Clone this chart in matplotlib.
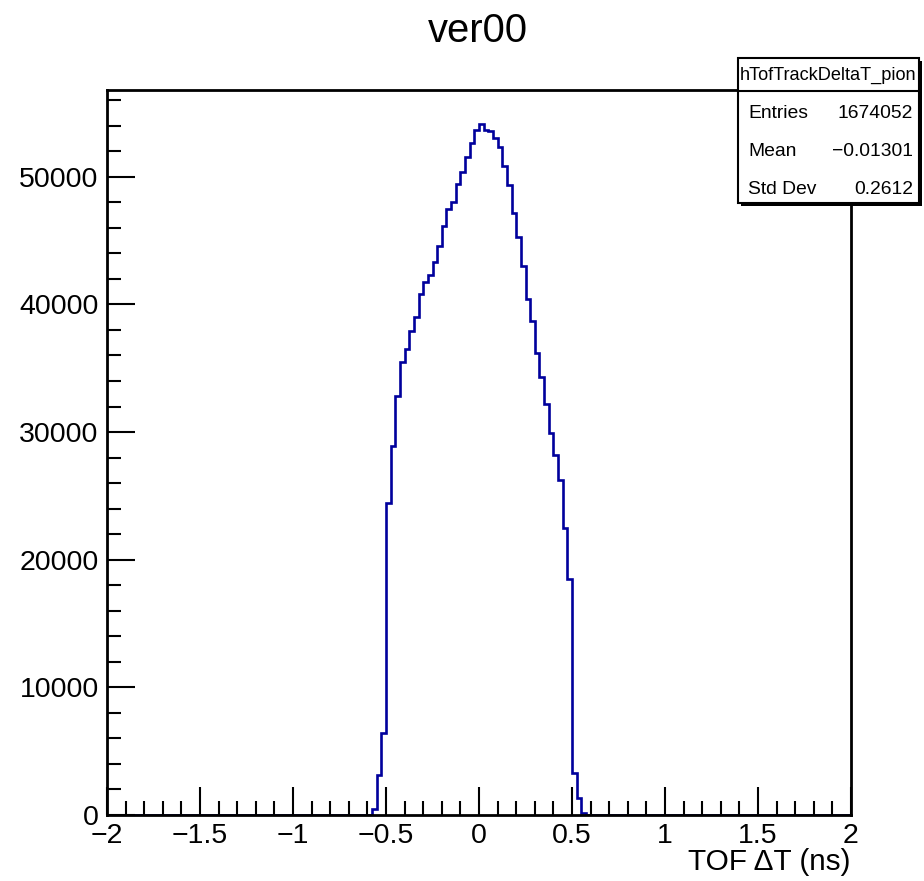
import numpy as np
import matplotlib
matplotlib.use("Agg")
import matplotlib.pyplot as plt
from matplotlib.patches import Rectangle
from matplotlib.ticker import MultipleLocator, FixedLocator

plt.rcParams['font.family'] = ['Liberation Sans', 'DejaVu Sans']

# Histogram definition: 160 bins on [-2, 2]
x_min, x_max, n_bins = -2.0, 2.0, 160
# Filled bins start at this lower edge; all other bins are empty
first_filled_edge = -0.575
counts_filled = [
    450, 3130, 6450,
    24430, 28900, 32800, 35500, 36500, 37950, 39050, 40830, 41770, 42340,
    43310, 44590, 46130, 47440, 48040, 49430, 50340, 51570, 52660, 53630,
    54100, 53630, 53560, 53040, 52350, 50810, 49370, 47170, 45320, 43000,
    40410, 38710, 36200, 34350, 32230, 29960, 28220, 26220, 22470, 18500,
    3270, 1360, 180,
]

title = "ver00"
hist_name = "hTofTrackDeltaT_pion"
stat_labels = ["Entries", "Mean", "Std Dev"]
stat_values = ["1674052", "\u22120.01301", "0.2612"]
x_label = "TOF \u0394T (ns)"
x_ticks = [-2, -1.5, -1, -0.5, 0, 0.5, 1, 1.5, 2]
x_ticklabels = ["\u22122", "\u22121.5", "\u22121", "\u22120.5", "0", "0.5", "1", "1.5", "2"]
y_ticks = [0, 10000, 20000, 30000, 40000, 50000]
y_max = 56800

edges = np.linspace(x_min, x_max, n_bins + 1)
counts = np.zeros(n_bins)
start = int(round((first_filled_edge - x_min) / (x_max - x_min) * n_bins))
counts[start:start + len(counts_filled)] = counts_filled

W, H = 924, 881
fig = plt.figure(figsize=(W / 100, H / 100), dpi=100)
ax = fig.add_axes([107 / W, 1 - 815 / H, (851 - 107) / W, (815 - 90) / H])

ax.stairs(counts, edges, color="#00009c", linewidth=1.9, baseline=None)

ax.set_xlim(x_min, x_max)
ax.set_ylim(0, y_max)

ax.xaxis.set_major_locator(FixedLocator(x_ticks))
ax.set_xticklabels(x_ticklabels)
ax.xaxis.set_minor_locator(MultipleLocator(0.1))
ax.yaxis.set_major_locator(FixedLocator(y_ticks))
ax.set_yticklabels([str(v) for v in y_ticks])
ax.yaxis.set_minor_locator(MultipleLocator(2000))

ax.tick_params(axis="both", which="both", direction="in", top=False, right=False,
               colors="black", labelsize=20.5)
ax.tick_params(axis="both", which="major", length=20, width=1.5)
ax.tick_params(axis="both", which="minor", length=10, width=1.5)
ax.tick_params(axis="x", which="major", pad=5.5)
ax.tick_params(axis="y", which="major", pad=6)
for s in ax.spines.values():
    s.set_linewidth(2)
    s.set_color("black")

fig.text(851 / W, 1 - 862 / H, x_label, ha="right", va="center", fontsize=21.4)
fig.text(478 / W, 1 - 31 / H, title, ha="center", va="center", fontsize=28.8)

# Statistics box with drop shadow
bx0, bx1 = 738, 919
by_top, by_mid, by_bot = 58, 91, 203
sh = 3
box_w = (bx1 - bx0) / W
box_h = (by_bot - by_top) / H
fig.add_artist(Rectangle(((bx0 + sh) / W, 1 - (by_bot + sh) / H), box_w, box_h,
                         transform=fig.transFigure,
                         facecolor="black", edgecolor="black", lw=0))
fig.add_artist(Rectangle((bx0 / W, 1 - by_bot / H), box_w, box_h,
                         transform=fig.transFigure,
                         facecolor="white", edgecolor="black", lw=1.5))
fig.add_artist(plt.Line2D([bx0 / W, bx1 / W], [1 - by_mid / H, 1 - by_mid / H],
                          transform=fig.transFigure, color="black", lw=1.5))
fig.text((bx0 + bx1) / 2 / W, 1 - 75 / H, hist_name, ha="center", va="center",
         fontsize=13.1)
row_y = [114, 152, 189]
for lab, val, ry in zip(stat_labels, stat_values, row_y):
    fig.text(748 / W, 1 - ry / H, lab, ha="left", va="center", fontsize=13.9)
    fig.text(913 / W, 1 - ry / H, val, ha="right", va="center", fontsize=13.9)

fig.savefig("out.png", dpi=100)
